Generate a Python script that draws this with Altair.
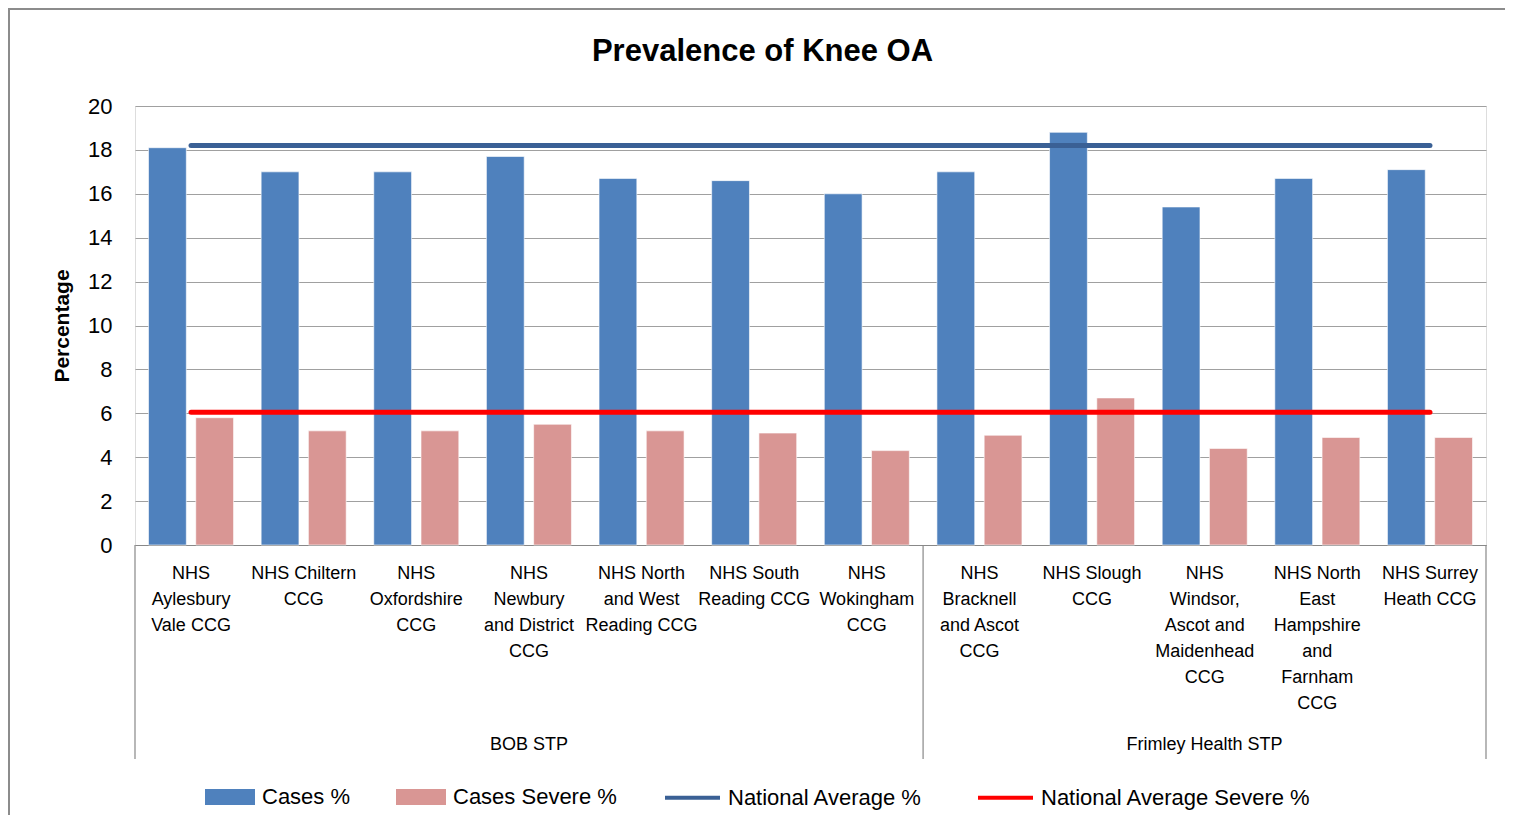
import altair as alt
import pandas as pd

# ---------------- data ----------------
categories = [
    "NHS\nAylesbury\nVale CCG",
    "NHS Chiltern\nCCG",
    "NHS\nOxfordshire\nCCG",
    "NHS\nNewbury\nand District\nCCG",
    "NHS North\nand West\nReading CCG",
    "NHS South\nReading CCG",
    "NHS\nWokingham\nCCG",
    "NHS\nBracknell\nand Ascot\nCCG",
    "NHS Slough\nCCG",
    "NHS\nWindsor,\nAscot and\nMaidenhead\nCCG",
    "NHS North\nEast\nHampshire\nand\nFarnham\nCCG",
    "NHS Surrey\nHeath CCG",
]
cases = [18.1, 17.0, 17.0, 17.7, 16.7, 16.6, 16.0, 17.0, 18.8, 15.4, 16.7, 17.1]
cases_severe = [5.8, 5.2, 5.2, 5.5, 5.2, 5.1, 4.3, 5.0, 6.7, 4.4, 4.9, 4.9]
national_avg = 18.2
national_avg_severe = 6.05
group_names = ["BOB STP", "Frimley Health STP"]
group_sizes = [7, 5]
y_ticks = [0, 2, 4, 6, 8, 10, 12, 14, 16, 18, 20]

bar_series = ["Cases %", "Cases Severe %"]
bar_colors = ["#4F81BD", "#D99694"]
line_series = ["National Average %", "National Average Severe %"]
line_colors = ["#3A6095", "#FF0000"]

FONT = "Liberation Sans"
W, H = 1351, 439

# ---------------- tables ----------------
bars_df = pd.DataFrame(
    [{"category": c, "series": bar_series[0], "value": v} for c, v in zip(categories, cases)]
    + [{"category": c, "series": bar_series[1], "value": v} for c, v in zip(categories, cases_severe)]
)
lines_df = pd.DataFrame(
    [{"category": c, "series": line_series[0], "value": national_avg} for c in categories]
    + [{"category": c, "series": line_series[1], "value": national_avg_severe} for c in categories]
)
bounds = [0]
for s in group_sizes:
    bounds.append(bounds[-1] + s)
sep_df = pd.DataFrame({"pos": bounds})
grp_df = pd.DataFrame({
    "name": group_names,
    "mid": [(bounds[i] + bounds[i + 1]) / 2 for i in range(len(group_names))],
})

x_enc = alt.X(
    "category:N",
    sort=categories,
    scale=alt.Scale(paddingInner=0.245, paddingOuter=0.12),
    axis=alt.Axis(
        title=None,
        labelExpr="split(datum.label, '\\n')",
        labelAngle=0,
        labelFont=FONT,
        labelFontSize=18,
        labelColor="#000000",
        labelLineHeight=26,
        labelBaseline="top",
        labelPadding=19,
        labelLimit=300,
        ticks=False,
        domainColor="#888888",
        domainWidth=1.2,
        grid=False,
    ),
)
y_enc = alt.Y(
    "value:Q",
    scale=alt.Scale(domain=[0, 20], nice=False),
    axis=alt.Axis(
        title="Percentage",
        titleFont=FONT,
        titleFontSize=21,
        titleFontWeight="bold",
        titleColor="#000000",
        titleX=-63,
        titleY=H / 2,
        titleAngle=-90,
        titleBaseline="bottom",
        titleAlign="center",
        values=y_ticks,
        labelFont=FONT,
        labelFontSize=22,
        labelColor="#000000",
        labelPadding=23,
        ticks=False,
        domain=False,
        grid=True,
        gridColor="#A0A0A0",
        gridWidth=1.2,
    ),
)

bars = alt.Chart(bars_df).mark_bar(stroke="#FFFFFF", strokeWidth=0.6).encode(
    x=x_enc,
    y=y_enc,
    xOffset=alt.XOffset("series:N", sort=bar_series,
                        scale=alt.Scale(paddingInner=0.2, paddingOuter=0)),
    fill=alt.Fill(
        "series:N",
        scale=alt.Scale(domain=bar_series, range=bar_colors),
        legend=alt.Legend(
            title=None,
            orient="none",
            legendX=70,
            legendY=666,
            direction="horizontal",
            symbolType="M-1,-0.32H1V0.32H-1Z",
            symbolSize=2500,
            symbolStrokeWidth=0,
            labelFont=FONT,
            labelFontSize=22,
            labelColor="#000000",
            labelOffset=7,
            columnPadding=45,
            labelLimit=400,
        ),
    ),
)

lines = alt.Chart(lines_df).mark_line(strokeWidth=5, strokeCap="round").encode(
    x=alt.X("category:N", sort=categories),
    y=alt.Y("value:Q"),
    stroke=alt.Stroke(
        "series:N",
        scale=alt.Scale(domain=line_series, range=line_colors),
        legend=alt.Legend(
            title=None,
            orient="none",
            legendX=528,
            legendY=662,
            direction="horizontal",
            symbolType="stroke",
            symbolSize=3025,
            symbolStrokeWidth=4,
            labelFont=FONT,
            labelFontSize=22,
            labelColor="#000000",
            labelOffset=6,
            columnPadding=47,
            labelLimit=400,
        ),
    ),
    detail="series:N",
)

qscale = alt.Scale(domain=[0, sum(group_sizes)], nice=False, zero=False)
seps = alt.Chart(sep_df).mark_rule(color="#888888", strokeWidth=1.2).encode(
    x=alt.X("pos:Q", scale=qscale, axis=None),
    y=alt.value(H),
    y2=alt.value(H + 214),
)
grp_text = alt.Chart(grp_df).mark_text(
    font=FONT, fontSize=18, color="#000000", baseline="middle", align="center"
).encode(
    x=alt.X("mid:Q", scale=qscale, axis=None),
    y=alt.value(H + 200),
    text="name:N",
)

frame_df = pd.DataFrame({"k": [0]})
frame = alt.Chart(frame_df).mark_rect(
    fill=None, fillOpacity=0, stroke="#8C8C8C", strokeWidth=2
).encode(
    x=alt.value(-126), x2=alt.value(W + 40), y=alt.value(-97), y2=alt.value(H + 300)
)

main = alt.layer(bars, lines)
extra = alt.layer(seps, grp_text)

chart = (
    alt.layer(frame, main, extra)
    .resolve_scale(x="independent")
    .properties(
        width=W,
        height=H,
        autosize=alt.AutoSizeParams(type="none"),
        padding={"left": 127, "top": 98, "right": 19, "bottom": 270},
        title=alt.Title(
            "Prevalence of Knee OA",
            font=FONT,
            fontSize=31,
            fontWeight="bold",
            color="#000000",
            anchor="middle",
            dx=-48,
            offset=-60,
        ),
    )
    .configure_view(stroke=None)
    .configure(background="white")
)

chart.save("out.html", embed_options={"renderer": "svg", "actions": False})
